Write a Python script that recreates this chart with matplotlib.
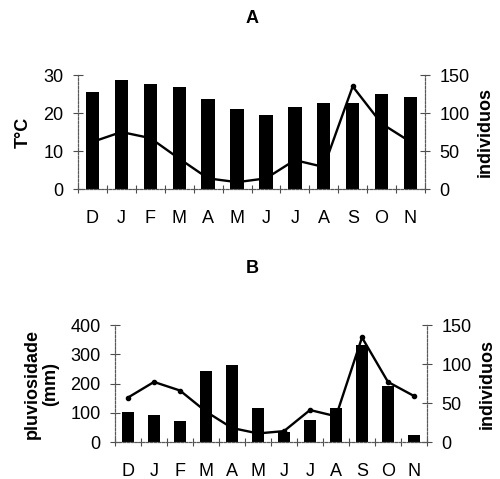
import matplotlib
matplotlib.use("Agg")
import matplotlib.pyplot as plt
import numpy as np

plt.rcParams['font.family'] = ['Liberation Sans', 'DejaVu Sans']

months = ["D", "J", "F", "M", "A", "M", "J", "J", "A", "S", "O", "N"]
temperature = [25.6, 28.7, 27.6, 26.9, 23.8, 21.0, 19.5, 21.6, 22.7, 22.7, 24.9, 24.1]
individuals_a = [62, 75, 67, 40, 14, 9, 14, 38, 29, 135, 86, 62]
rainfall = [101, 91, 71, 242, 263, 117, 34, 74, 118, 331, 191, 23]
individuals_b = [57, 77, 66, 39, 18, 11, 14, 41, 33, 134, 77, 59]

fig = plt.figure(figsize=(5.0, 4.79), dpi=100)

def style(ax, axr, ylim_l, yt_l, ylim_r, yt_r):
    x = np.arange(len(months))
    ax.set_xlim(-0.5, len(months) - 0.5)
    ax.set_ylim(*ylim_l)
    ax.set_yticks(yt_l)
    axr.set_ylim(*ylim_r)
    axr.set_yticks(yt_r)
    ax.set_xticks(x)
    ax.set_xticklabels(months)
    ax.set_xticks(np.arange(-0.5, len(months) + 0.5, 1), minor=True)
    ax.tick_params(axis='x', which='major', length=0, pad=15, labelsize=13)
    ax.tick_params(axis='x', which='minor', length=6, direction='inout', width=0.8, color='0.3')
    ax.tick_params(axis='y', length=7, direction='inout', width=0.8, color='0.3', labelsize=13, pad=7)
    axr.tick_params(axis='y', length=7, direction='inout', width=0.8, color='0.3', labelsize=13, pad=7)
    for a in (ax, axr):
        a.spines['top'].set_visible(False)
        for s in ('left', 'right', 'bottom'):
            a.spines[s].set_linestyle((0, (2, 1.5)))
            a.spines[s].set_color('0.35')
            a.spines[s].set_linewidth(0.8)

# Panel A
axA = fig.add_axes([0.156, 0.6054, 0.694, 0.2380])
axAr = axA.twinx()
x = np.arange(len(months))
axA.bar(x, temperature, width=0.46, color='black', zorder=2)
axAr.plot(x, individuals_a, color='black', lw=1.7, zorder=3)
axAr.plot(x[9], individuals_a[9], 'o', color='black', ms=3)
style(axA, axAr, (0, 30), [0, 10, 20, 30], (0, 150), [0, 50, 100, 150])
axA.set_ylabel("T°C", fontsize=13, fontweight='bold', labelpad=8)
axAr.set_ylabel("individuos", fontsize=13, fontweight='bold', labelpad=5)
fig.text(0.504, 0.962, "A", ha='center', va='center', fontsize=13, fontweight='bold')

# Panel B
axB = fig.add_axes([0.23, 0.0772, 0.624, 0.2443])
axBr = axB.twinx()
axB.bar(x, rainfall, width=0.48, color='black', zorder=2)
axBr.plot(x, individuals_b, color='black', lw=1.7, marker='o', ms=3, zorder=3)
style(axB, axBr, (0, 400), [0, 100, 200, 300, 400], (0, 150), [0, 50, 100, 150])
axB.set_ylabel("pluviosidade\n(mm)", fontsize=13, fontweight='bold', labelpad=8, linespacing=1.1)
axBr.set_ylabel("individuos", fontsize=13, fontweight='bold', labelpad=5)
fig.text(0.504, 0.44, "B", ha='center', va='center', fontsize=13, fontweight='bold')

fig.savefig("out.png", dpi=100)
